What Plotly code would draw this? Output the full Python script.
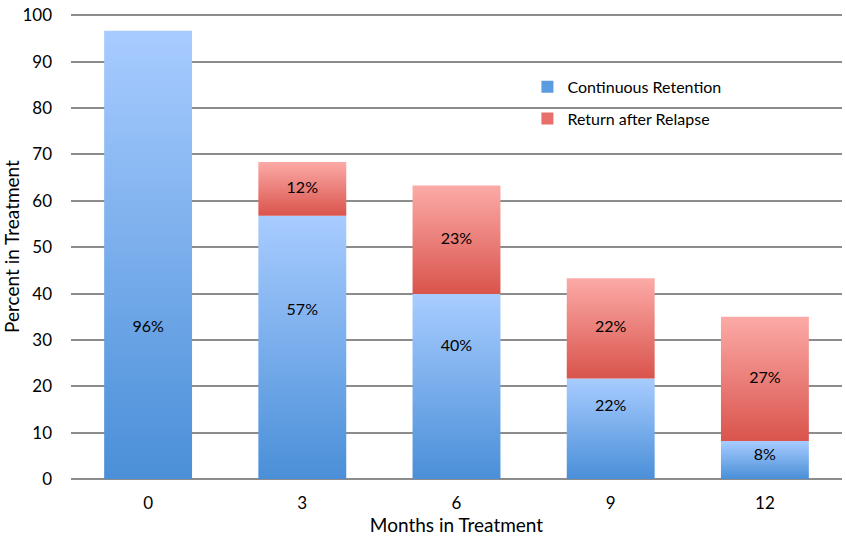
import plotly.graph_objects as go

months = ['0', '3', '6', '9', '12']
continuous = [96.7, 56.8, 39.9, 21.7, 8.2]
relapse = [0, 11.6, 23.4, 21.6, 26.8]
continuous_labels = ['96%', '57%', '40%', '22%', '8%']
relapse_labels = ['', '12%', '23%', '22%', '27%']

# where the labels sit (read off the picture, not centred for blue)
continuous_label_y = [32.6, 36.2, 28.4, 15.6, 4.9]

FONT = 'Lato'
BLUE = ['#4a8fd8', '#a8ccff']
RED = ['#d9544c', '#fcaaa7']
half = 0.285

fig = go.Figure()


def add_segment(i, base, value, colors, name):
    x0, x1 = i - half, i + half
    fig.add_trace(go.Scatter(
        x=[x0, x1, x1, x0, x0], y=[base, base, base + value, base + value, base],
        mode='none', fill='toself',
        fillgradient=dict(type='vertical', colorscale=[[0, colors[0]], [1, colors[1]]]),
        showlegend=False, hoverinfo='skip', name=name))


for i in range(len(months)):
    add_segment(i, 0, continuous[i], BLUE, 'Continuous Retention')
    if relapse[i] > 0:
        add_segment(i, continuous[i], relapse[i], RED, 'Return after Relapse')

# legend entries
for name, col in [('Continuous Retention', '#5b9be0'), ('Return after Relapse', '#e8706a')]:
    fig.add_trace(go.Scatter(x=[None], y=[None], mode='markers', name=name, legendgroup=name,
                             marker=dict(symbol='square', size=9, color=col)))

fig.add_trace(go.Scatter(
    x=list(range(len(months))), y=continuous_label_y, mode='text',
    text=continuous_labels, textfont=dict(family=FONT, size=16, color='black'),
    showlegend=False, hoverinfo='skip'))
rel_idx = [i for i in range(len(months)) if relapse[i] > 0]
fig.add_trace(go.Scatter(
    x=rel_idx, y=[continuous[i] + relapse[i] / 2 for i in rel_idx], mode='text',
    text=[relapse_labels[i] for i in rel_idx], textfont=dict(family=FONT, size=16, color='black'),
    showlegend=False, hoverinfo='skip'))

fig.update_layout(
    width=846, height=540,
    margin=dict(l=71, r=4, t=10, b=61),
    plot_bgcolor='white', paper_bgcolor='white',
    font=dict(family=FONT, size=17, color='black'),
    legend=dict(x=0.592, y=0.88, xanchor='left', yanchor='top', bgcolor='rgba(0,0,0,0)',
                font=dict(family=FONT, size=16), tracegroupgap=8, itemsizing='constant'),
)
fig.update_xaxes(
    range=[-0.5, 4.5], tickvals=list(range(len(months))), ticktext=months,
    showgrid=False, zeroline=False, showline=False, ticks='', ticklabelstandoff=12,
    title=dict(text='Months in Treatment', font=dict(family=FONT, size=19), standoff=5),
)
fig.update_yaxes(
    range=[0, 100.3], tickvals=list(range(0, 101, 10)), showgrid=True, gridcolor='#8c8c8c',
    gridwidth=1.5, zeroline=True, zerolinecolor='#8c8c8c', zerolinewidth=1.5, showline=False,
    ticks='', ticklabelstandoff=18,
    title=dict(text='Percent in Treatment', font=dict(family=FONT, size=19), standoff=5),
)

fig.write_html('out.html', config={'displayModeBar': False},
               post_script="document.body.style.margin='0';")
